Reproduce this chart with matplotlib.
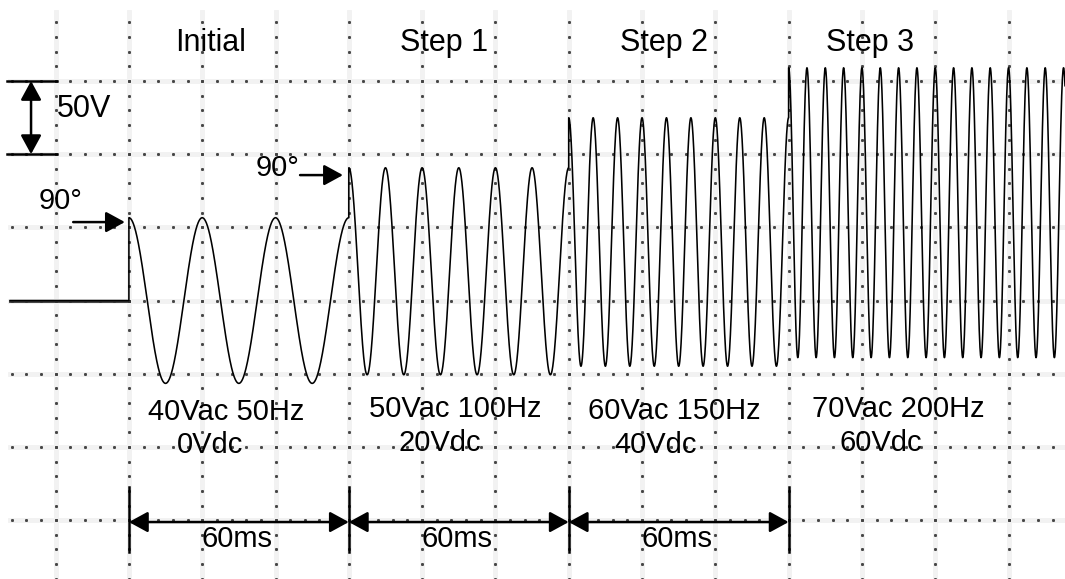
import numpy as np
import matplotlib.pyplot as plt

plt.rcParams['font.family'] = ['Liberation Sans', 'DejaVu Sans']

# Dados dos degraus (tensão AC em Vrms, frequência, nível DC, duração)
etapas = ['Initial', 'Step 1', 'Step 2', 'Step 3']
vac = [40, 50, 60, 70]           # Vrms
freq = [50, 100, 150, 200]       # Hz
vdc = [0, 20, 40, 60]            # V
duracao = [60, 60, 60, 75.4]     # ms (o último vai até a borda da tela)
legenda_ac = ['40Vac 50Hz', '50Vac 100Hz', '60Vac 150Hz', '70Vac 200Hz']
legenda_dc = ['0Vdc', '20Vdc', '40Vdc', '60Vdc']
t_pre = [-32.4, 0]               # trecho antes do disparo (ms)
v_pre = [0, 0]

# Escalas do osciloscópio: 20 ms/div, 50 V/div
ms_div = 20
v_div = 50

fig = plt.figure(figsize=(10.65, 5.79), dpi=100)
ax = fig.add_axes([0, 0, 1, 1])
ax.set_xlim(-35.17, 255.4)
ax.set_ylim(-190.2, 205.3)
ax.axis('off')

# Grade pontilhada
xs_grade = np.arange(-20, 241, ms_div)
ys_grade = np.arange(-150, 151, v_div)
for xg in xs_grade:
    ax.plot([xg, xg], [-190.2, 197], color='#f2f2f2', lw=3.5, zorder=0)
    yy = np.arange(-190, 197, v_div / 5)
    ax.plot(np.full_like(yy, xg), yy, ls='none', marker='s', ms=1.1,
            color='#444444', zorder=1)
for yg in ys_grade:
    ax.plot([-32.4, 255.4], [yg, yg], color='#f2f2f2', lw=3.5, zorder=0)
    xx = np.arange(-32, 256, ms_div / 5)
    ax.plot(xx, np.full_like(xx, yg), ls='none', marker='s', ms=1.1,
            color='#444444', zorder=1)

# Forma de onda
t_sinal = list(t_pre)
v_sinal = list(v_pre)
inicio = 0
for i in range(len(etapas)):
    t = np.linspace(inicio, inicio + duracao[i], int(duracao[i] * 20) + 1)
    v = vdc[i] + vac[i] * np.sqrt(2) * np.cos(2 * np.pi * freq[i] * (t - inicio) / 1000)
    t_sinal += list(t)
    v_sinal += list(v)
    inicio += duracao[i]
ax.plot(t_pre, v_pre, color='#333333', lw=2, zorder=3)
ax.plot(t_sinal, v_sinal, color='black', lw=1.15, zorder=3)

fs = 21
# Títulos das etapas
pos_titulo = [22.2, 86.0, 146.0, 202.2]
for i in range(len(etapas)):
    ax.text(pos_titulo[i], 170.8, etapas[i], ha='center', va='baseline', fontsize=22)

# Legendas de cada etapa
pos_ac = [26.6, 89.0, 148.7, 209.8]
pos_dc = [22.1, 84.9, 143.8, 205.2]
y_ac = [-81.6, -79.6, -80.9, -79.6]
y_dc = [-104.2, -102.8, -104.2, -102.8]
for i in range(len(etapas)):
    ax.text(pos_ac[i], y_ac[i], legenda_ac[i], ha='center', va='baseline', fontsize=fs)
    ax.text(pos_dc[i], y_dc[i], legenda_dc[i], ha='center', va='baseline', fontsize=fs)

seta = dict(color='black', lw=1.8, shrinkA=0, shrinkB=0, mutation_scale=21)

# Marcadores de 60 ms
marcas = [0, 60, 120, 180]
for m in marcas:
    ax.plot([m, m], [-127.4, -171.8], color='black', lw=1.8, zorder=4)
for i in range(3):
    ax.annotate('', xy=(marcas[i], -151.3), xytext=(marcas[i + 1], -151.3),
                arrowprops=dict(arrowstyle='<|-|>,head_length=0.55,head_width=0.3', **seta))
    ax.text((marcas[i] + marcas[i + 1]) / 2 - 0.5, -168.4, '60ms', ha='center',
            va='baseline', fontsize=fs)

# Escala de 50 V
ax.plot([-33.3, -19.6], [150, 150], color='black', lw=1.8)
ax.plot([-33.3, -19.6], [100, 100], color='black', lw=1.8)
ax.annotate('', xy=(-26.7, 150), xytext=(-26.7, 100),
            arrowprops=dict(arrowstyle='<|-|>,head_length=0.55,head_width=0.3', **seta))
ax.text(-19.6, 125.3, '50V', ha='left', va='baseline', fontsize=22)

# Indicações de 90°
ax.text(-24.5, 62.5, '90°', ha='left', va='baseline', fontsize=fs)
ax.annotate('', xy=(-1.1, 53.6), xytext=(-15.2, 53.6),
            arrowprops=dict(arrowstyle='-|>,head_length=0.55,head_width=0.3', **seta))
ax.text(34.7, 85.0, '90°', ha='left', va='baseline', fontsize=fs)
ax.annotate('', xy=(58.4, 85.7), xytext=(46.7, 85.7),
            arrowprops=dict(arrowstyle='-|>,head_length=0.55,head_width=0.3', **seta))

fig.savefig('out.png', dpi=100)
